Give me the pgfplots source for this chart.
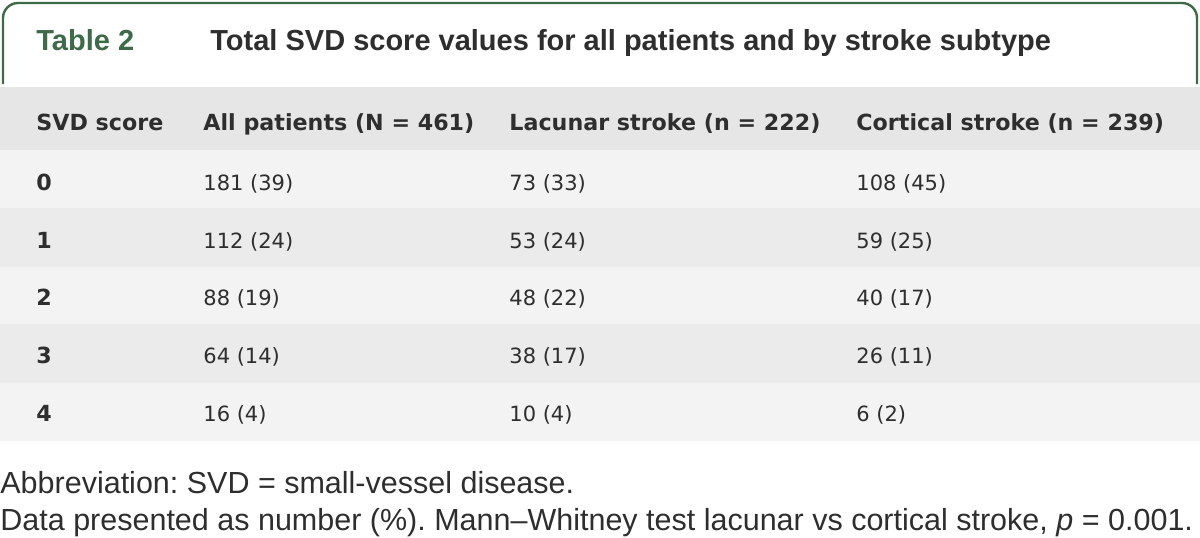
\documentclass[border=0pt]{standalone}
\usepackage{fontspec}
\setmainfont{DejaVu Sans}
\newfontfamily\arialfont{Liberation Sans}
\usepackage{pgfplots}
\pgfplotsset{compat=1.18}
\usepackage{pgfplotstable}
\definecolor{tgreen}{HTML}{3D6B47}
\definecolor{txt}{HTML}{2E2E2E}
\definecolor{hdr}{HTML}{E6E6E6}
\definecolor{rowA}{HTML}{F3F3F3}
\definecolor{rowB}{HTML}{EBEBEB}
\frenchspacing

\pgfplotstableread[col sep=semicolon]{
x;y;label
36;50;Table 2
}\tabno
\pgfplotstableread[col sep=semicolon]{
x;y;label
210;50;Total SVD score values for all patients and by stroke subtype
}\titletab
\pgfplotstableread[col sep=semicolon]{
x;y;label
36;130;SVD score
203;130;All patients (N = 461)
509;130;Lacunar stroke (n = 222)
856;130;Cortical stroke (n = 239)
36;190;0
36;248;1
36;305;2
36;363;3
36;421;4
}\headtab
\pgfplotstableread[col sep=semicolon]{
x;y;label
203;190;181 (39)
509;190;73 (33)
856;190;108 (45)
203;248;112 (24)
509;248;53 (24)
856;248;59 (25)
203;305;88 (19)
509;305;48 (22)
856;305;40 (17)
203;363;64 (14)
509;363;38 (17)
856;363;26 (11)
203;421;16 (4)
509;421;10 (4)
856;421;6 (2)
}\valtab
\pgfplotstableread[col sep=semicolon]{
x;y;label
0;493;Abbreviation: SVD = small-vessel disease.
0;530;Data presented as number (\%). Mann–Whitney test lacunar vs cortical stroke, \textit{p} = 0.001.
}\foottab

\pgfplotsset{
  cell/.style={draw=none, mark=none, point meta=explicit symbolic,
    nodes near coords={\pgfplotspointmeta},
    every node near coord/.append style={anchor=base west, inner sep=0pt, text=txt,
      font=\fontsize{10.5}{12.6}\selectfont\frenchspacing}},
}

\begin{document}
\begin{tikzpicture}
\begin{axis}[
  width=600pt, height=268.5pt, scale only axis,
  xmin=0, xmax=1200, ymin=0, ymax=537, y dir=reverse,
  enlargelimits=false, hide axis, clip=false,
]
\addplot[draw=none, mark=none] coordinates {(0,0) (1200,537)};
% row bands
\addplot[fill=hdr, draw=none] coordinates {(0,87) (1200,87) (1200,150) (0,150)} -- cycle;
\addplot[fill=rowA, draw=none] coordinates {(0,150) (1200,150) (1200,208) (0,208)} -- cycle;
\addplot[fill=rowB, draw=none] coordinates {(0,208) (1200,208) (1200,267) (0,267)} -- cycle;
\addplot[fill=rowA, draw=none] coordinates {(0,267) (1200,267) (1200,324) (0,324)} -- cycle;
\addplot[fill=rowB, draw=none] coordinates {(0,324) (1200,324) (1200,383) (0,383)} -- cycle;
\addplot[fill=rowA, draw=none] coordinates {(0,383) (1200,383) (1200,441) (0,441)} -- cycle;
% border
\addplot[tgreen, line width=1.2pt, mark=none, rounded corners=7.5pt] coordinates {(3,84) (3,3) (1197,3) (1197,84)};
% text
\addplot[cell, every node near coord/.append style={text=tgreen, font=\arialfont\fontsize{14.5}{16}\selectfont\bfseries}] table[x=x, y=y, meta=label] {\tabno};
\addplot[cell, every node near coord/.append style={font=\arialfont\fontsize{14.5}{16}\selectfont\bfseries}] table[x=x, y=y, meta=label] {\titletab};
\addplot[cell, every node near coord/.append style={font=\fontsize{11.1}{13}\selectfont\bfseries}] table[x=x, y=y, meta=label] {\headtab};
\addplot[cell] table[x=x, y=y, meta=label] {\valtab};
\addplot[cell, every node near coord/.append style={font=\arialfont\fontsize{15.25}{18}\selectfont\frenchspacing}] table[x=x, y=y, meta=label] {\foottab};
\end{axis}
\end{tikzpicture}
\end{document}
